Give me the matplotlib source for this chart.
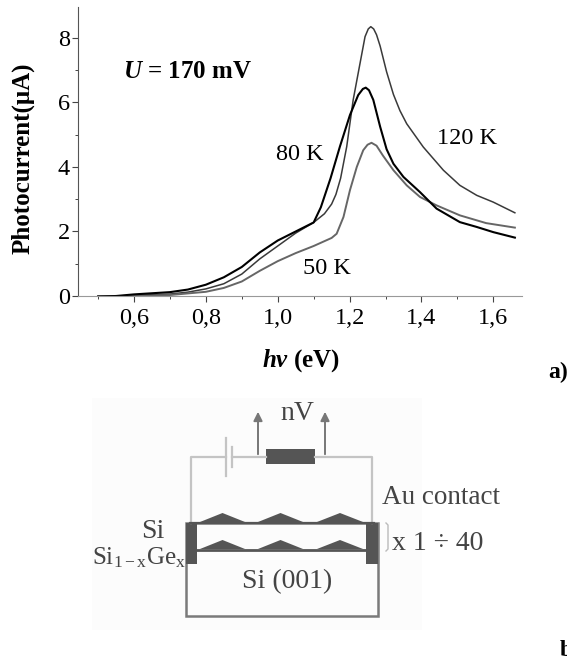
import matplotlib
matplotlib.use('Agg')
import matplotlib.pyplot as plt
from matplotlib.patches import Polygon, Rectangle

plt.rcParams['font.family'] = ['Liberation Serif', 'DejaVu Serif']
plt.rcParams['mathtext.fontset'] = 'custom'
plt.rcParams['mathtext.rm'] = 'Liberation Serif'
plt.rcParams['mathtext.it'] = 'Liberation Serif:italic'
plt.rcParams['mathtext.bf'] = 'Liberation Serif:bold'
plt.rcParams['mathtext.bfit'] = 'Liberation Serif:italic:bold'

W, H = 567, 663

x_120 = [0.5, 0.55, 0.6, 0.7, 0.75, 0.8, 0.85, 0.9, 0.95, 1.0, 1.05, 1.1, 1.13, 1.15, 1.162, 1.175, 1.192,
         1.21, 1.229, 1.243, 1.252, 1.259, 1.267, 1.275, 1.285, 1.303, 1.322, 1.34, 1.359, 1.405, 1.461,
         1.507, 1.554, 1.6, 1.66]
y_120 = [0, 0, 0.02, 0.06, 0.12, 0.22, 0.38, 0.68, 1.15, 1.55, 1.95, 2.28, 2.55, 2.85, 3.15, 3.65, 4.63,
         6.08, 7.21, 8.04, 8.28, 8.35, 8.28, 8.1, 7.75, 6.95, 6.25, 5.75, 5.34, 4.62, 3.9,
         3.43, 3.12, 2.91, 2.58]
x_80 = [0.5, 0.55, 0.6, 0.7, 0.75, 0.8, 0.85, 0.9, 0.95, 1.0, 1.05, 1.1, 1.12, 1.147, 1.173, 1.201, 1.224,
        1.237, 1.245, 1.254, 1.266, 1.285, 1.303, 1.322, 1.35, 1.396, 1.442, 1.507, 1.554, 1.6, 1.66]
y_80 = [-0.02, 0, 0.05, 0.12, 0.2, 0.35, 0.58, 0.9, 1.35, 1.72, 2.0, 2.28, 2.75, 3.65, 4.63, 5.61, 6.23,
        6.42, 6.46, 6.38, 6.08, 5.25, 4.55, 4.1, 3.69, 3.22, 2.71, 2.29, 2.14, 1.98, 1.81]
x_50 = [0.5, 0.6, 0.7, 0.8, 0.85, 0.9, 0.95, 1.0, 1.05, 1.1, 1.15, 1.164, 1.183, 1.201, 1.22, 1.238, 1.25,
        1.261, 1.275, 1.293, 1.322, 1.359, 1.396, 1.442, 1.507, 1.58, 1.66]
y_50 = [-0.02, 0, 0.03, 0.13, 0.25, 0.45, 0.78, 1.08, 1.33, 1.55, 1.8, 1.93, 2.45, 3.28, 4.0, 4.52, 4.69,
        4.75, 4.66, 4.35, 3.9, 3.43, 3.07, 2.81, 2.5, 2.26, 2.12]

x_ticks = [0.6, 0.8, 1.0, 1.2, 1.4, 1.6]
x_labels = ['0,6', '0,8', '1,0', '1,2', '1,4', '1,6']
y_ticks = [0, 2, 4, 6, 8]

# schematic geometry, in picture pixels
bump_bases = [(200, 245), (258, 303), (317, 363)]
upper_bump_y = (522, 513)
lower_bump_y = (549, 540)

fig = plt.figure(figsize=(W / 100, H / 100), dpi=100)

left, right = 78.3, 521.7
top, bottom = 7, 296
ax = fig.add_axes([left / W, 1 - bottom / H, (right - left) / W, (bottom - top) / H])
ax.plot(x_120, y_120, color='#3a3a3a', lw=1.1)
ax.plot(x_50, y_50, color='#666666', lw=1.4)
ax.plot(x_80, y_80, color='black', lw=1.5)
ax.set_xlim(0.445, 1.679)
ax.set_ylim(0, 8.96)
ax.set_xticks(x_ticks)
ax.set_xticklabels(x_labels)
ax.set_yticks(y_ticks)
ax.set_xticks([0.5, 0.7, 0.9, 1.1, 1.3, 1.5], minor=True)
ax.set_yticks([1, 3, 5, 7], minor=True)
ax.tick_params(which='major', length=4, width=0.8, color='#444444', labelsize=17.5)
ax.tick_params(axis='x', which='major', pad=5)
ax.tick_params(axis='y', which='major', pad=2)
ax.tick_params(which='minor', length=2, width=0.7, color='#444444')
ax.spines['top'].set_visible(False)
ax.spines['right'].set_visible(False)
ax.spines['left'].set_color('#555555')
ax.spines['bottom'].set_color('#999999')
ax.patch.set_alpha(0)

# overlay in pixel coordinates for the labels and the schematic
ov = fig.add_axes([0, 0, 1, 1])
ov.set_xlim(0, W)
ov.set_ylim(H, 0)
ov.axis('off')
ov.patch.set_alpha(0)

ov.text(23, 158, 'Photocurrent(μA)', rotation=90, fontsize=18, fontweight='bold', ha='center', va='center')
ov.text(301, 361, r'$\mathbfit{hv}$ (eV)', fontsize=18, fontweight='bold', ha='center', va='center')
ov.text(123, 72, r'$\mathbfit{U}$ = 170 mV', fontsize=18, fontweight='bold', ha='left', va='center')
ov.text(300, 155, '80 K', fontsize=17.5, ha='center', va='center')
ov.text(467, 139, '120 K', fontsize=17.5, ha='center', va='center')
ov.text(327, 268, '50 K', fontsize=17.5, ha='center', va='center')
ov.text(548, 372, 'a)', fontsize=17, fontweight='bold', ha='left', va='center')
ov.text(560, 650, 'b', fontsize=17, fontweight='bold', ha='left', va='center')

wire = '#c4c4c4'
dark = '#555555'
ov.add_patch(Rectangle((92, 398), 330, 232, color='#fcfcfc', lw=0, zorder=0))
ov.plot([191, 191, 226], [523, 457, 457], color=wire, lw=1.6)
ov.plot([232, 266], [457, 457], color=wire, lw=1.6)
ov.plot([315, 372, 372], [457, 457, 523], color=wire, lw=1.6)
ov.plot([226, 226], [438, 476], color=wire, lw=1.6)
ov.plot([232, 232], [447, 467], color=wire, lw=1.6)
ov.add_patch(Rectangle((266, 449), 49, 15, color=dark, lw=0))
for ax_x in [258, 325]:
    ov.annotate('', xy=(ax_x, 409), xytext=(ax_x, 457),
                arrowprops=dict(arrowstyle='-|>', color='#777777', lw=1.4, mutation_scale=13))
ov.add_patch(Rectangle((186, 523), 192, 93, fill=False, ec='#7a7a7a', lw=1.8))
ov.plot([190, 374], [523, 523], color=dark, lw=1.6)
ov.plot([190, 374], [550, 550], color=dark, lw=2)
ov.add_patch(Rectangle((186, 523), 11, 41, color=dark, lw=0))
ov.add_patch(Rectangle((366, 523), 12, 41, color=dark, lw=0))
for x0, x1 in bump_bases:
    xm = (x0 + x1) / 2
    ov.add_patch(Polygon([(x0, upper_bump_y[0]), (xm, upper_bump_y[1]), (x1, upper_bump_y[0])], color=dark, lw=0))
    ov.add_patch(Polygon([(x0, lower_bump_y[0]), (xm, lower_bump_y[1]), (x1, lower_bump_y[0])], color=dark, lw=0))
ov.plot([386, 388, 388, 386], [523, 525, 549, 551], color='#bbbbbb', lw=1)

txt = '#444444'
ov.text(297, 413, 'nV', fontsize=20, color=txt, ha='center', va='center')
ov.text(382, 497, 'Au contact', fontsize=19.5, color=txt, ha='left', va='center')
ov.text(153, 532, 'Si', fontsize=20, color=txt, ha='center', va='center')
ov.text(92, 558, r'Si$_{\mathrm{1-x}}$Ge$_{\mathrm{x}}$', fontsize=18, color=txt, ha='left', va='center')
ov.text(392, 544, 'x 1 ÷ 40', fontsize=20, color=txt, ha='left', va='center')
ov.text(287, 582, 'Si (001)', fontsize=20, color=txt, ha='center', va='center')

fig.savefig('out.png', dpi=100)
